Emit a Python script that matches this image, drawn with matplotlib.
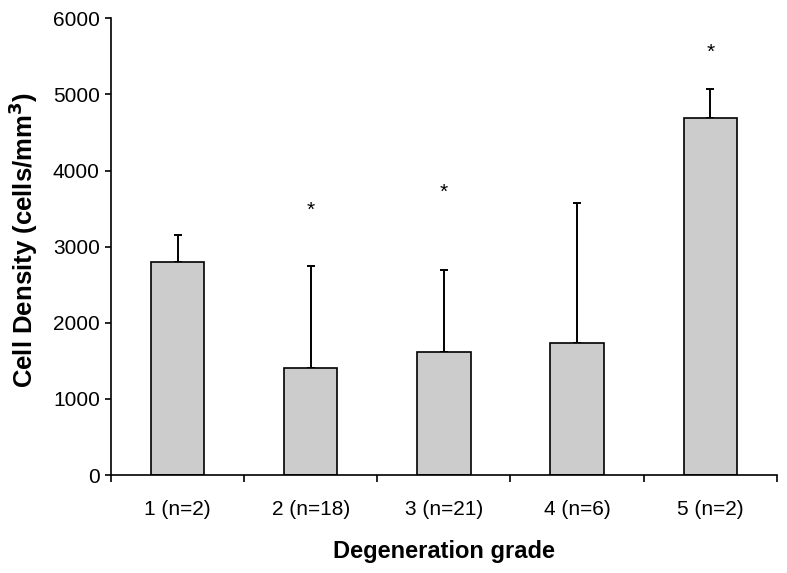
import numpy as np
import matplotlib
matplotlib.use("Agg")
import matplotlib.pyplot as plt

plt.rcParams["font.family"] = ["Liberation Sans", "DejaVu Sans"]

grades = ["1 (n=2)", "2 (n=18)", "3 (n=21)", "4 (n=6)", "5 (n=2)"]
density = [2800, 1400, 1610, 1735, 4690]
sd_upper = [350, 1340, 1085, 1845, 380]
star_y = [None, 3480, 3715, None, 5555]

fig = plt.figure(figsize=(7.87, 5.73), dpi=100)
ax = fig.add_axes([0.141, 0.171, 0.846, 0.797])

x = np.arange(len(grades))
ax.bar(x, density, width=0.4, color="#cccccc", edgecolor="black", linewidth=1.2, zorder=2)
ax.errorbar(x, density, yerr=[np.zeros(len(x)), sd_upper], fmt="none",
            ecolor="black", elinewidth=1.4, capsize=2.6, capthick=1.4, zorder=1)
for xi, s in zip(x, star_y):
    if s is not None:
        ax.text(xi, s, "*", ha="center", va="center", fontsize=15)

ax.set_xlim(-0.5, len(grades) - 0.5)
ax.set_ylim(0, 6000)
ax.set_yticks(range(0, 6001, 1000))
ax.set_xticks(x)
ax.set_xticklabels(grades)
ax.set_xticks(np.arange(-0.5, len(grades)), minor=True)
ax.tick_params(axis="x", which="major", length=0, pad=18, labelsize=15)
ax.tick_params(axis="x", which="minor", length=5, width=1.2, direction="out")
ax.tick_params(axis="y", length=4, width=1.2, direction="out", labelsize=15, pad=4)

for side in ("top", "right"):
    ax.spines[side].set_visible(False)
for side in ("left", "bottom"):
    ax.spines[side].set_linewidth(1.2)

ax.set_xlabel("Degeneration grade", fontsize=17, fontweight="bold")
ax.set_ylabel("Cell Density (cells/mm$^\\mathbf{3}$)", fontsize=18.5, fontweight="bold")
ax.xaxis.set_label_coords((444 - 111) / 666, -(540 - 475) / 457)
ax.yaxis.set_label_coords(-(111 - 40) / 666, (475 - 240) / 457)

fig.savefig("out.png", dpi=100)
